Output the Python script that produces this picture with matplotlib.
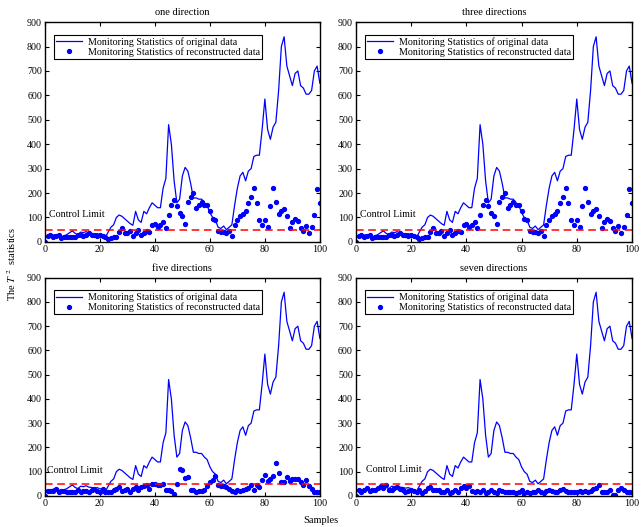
import numpy as np
import matplotlib
matplotlib.use("Agg")
import matplotlib.pyplot as plt

plt.rcParams['font.family'] = ['Liberation Serif', 'DejaVu Serif']
plt.rcParams['mathtext.fontset'] = 'stix'

samples = np.arange(0, 101)

# T^2 of the original data (same in every panel)
t2_orig = [20, 25, 22, 28, 30, 24, 20, 25, 30, 38,
           45, 35, 30, 40, 38, 42, 36, 35, 32, 34,
           30, 25, 18, 40, 60, 70, 100, 110, 105, 95,
           85, 75, 68, 125, 90, 80, 125, 115, 140, 160,
           150, 140, 140, 220, 260, 480, 400, 250, 160, 175,
           270, 305, 290, 240, 180, 180, 175, 175, 160, 150,
           120, 100, 90, 60, 55, 65, 50, 60, 70, 150,
           220, 270, 285, 250, 290, 300, 350, 355, 355, 460,
           585, 460, 420, 470, 490, 620, 800, 840, 720, 680,
           640, 690, 700, 640, 630, 605, 605, 620, 700, 720,
           650]

t2_one = [0, 25, 28, 18, 25, 30, 15, 22, 20, 20,
          22, 18, 30, 28, 25, 30, 35, 30, 28, 25,
          28, 25, 22, 10, 15, 18, 18, 40, 55, 38,
          38, 45, 25, 35, 50, 28, 35, 45, 42, 70,
          75, 60, 70, 80, 55, 110, 150, 170, 145, 120,
          105, 75, 165, 185, 200, 140, 150, 165, 150, 150,
          125, 95, 90, 45, 40, 40, 38, 45, 25, 70,
          90, 105, 115, 125, 160, 185, 220, 160, 90, 70,
          88, 60, 145, 222, 165, 115, 125, 135, 105, 55,
          80, 95, 85, 55, 45, 65, 35, 60, 110, 215,
          160]

t2_three = list(t2_one)

t2_five = [0, 20, 20, 22, 28, 15, 22, 20, 15, 18,
           15, 18, 25, 15, 22, 20, 15, 25, 30, 20,
           18, 28, 15, 18, 18, 25, 30, 35, 20, 25,
           28, 18, 30, 35, 25, 38, 40, 45, 30, 51,
           48, 46, 43, 48, 23, 23, 21, 7, 51, 110,
           106, 73, 78, 26, 26, 18, 20, 20, 26, 41,
           58, 65, 83, 46, 41, 39, 37, 29, 21, 18,
           26, 21, 23, 28, 33, 46, 26, 43, 37, 65,
           87, 62, 68, 83, 135, 94, 59, 59, 77, 62,
           69, 70, 70, 58, 46, 66, 41, 28, 18, 18,
           15]

t2_seven = [0, 26, 18, 26, 34, 21, 23, 26, 32, 40,
            32, 43, 23, 26, 32, 37, 29, 23, 18, 21,
            26, 21, 18, 23, 11, 21, 32, 37, 26, 23,
            26, 18, 15, 26, 10, 15, 26, 18, 34, 40,
            32, 40, 21, 18, 21, 15, 23, 12, 18, 23,
            15, 10, 26, 21, 18, 15, 18, 15, 12, 15,
            23, 12, 18, 12, 15, 15, 23, 18, 12, 21,
            23, 21, 15, 15, 23, 29, 21, 18, 15, 15,
            18, 21, 15, 21, 18, 21, 29, 34, 45, 15,
            18, 18, 23, 4, 4, 23, 34, 26, 18, 18,
            18]

control_limit = 50
titles = ["one direction", "three directions", "five directions", "seven directions"]
recon = [t2_one, t2_three, t2_five, t2_seven]
label_x = [1.5, 1.5, 0.7, 3.6]
label_y = [92, 92, 86, 90]

fig = plt.figure(figsize=(6.41, 5.27), dpi=100)
rects = [[0.070, 0.541, 0.429, 0.417],
         [0.555, 0.541, 0.431, 0.417],
         [0.070, 0.059, 0.429, 0.414],
         [0.555, 0.059, 0.431, 0.414]]

for i in range(4):
    ax = fig.add_axes(rects[i])
    ax.plot(samples, t2_orig, color='#0000ff', lw=0.9,
            label='Monitoring Statistics of original data')
    ax.plot(samples, recon[i], 'o', color='#0000ff', ms=2.8, mec='#0000ff',
            label='Monitoring Statistics of reconstructed data')
    ax.axhline(control_limit, color='#ff0000', ls=(0, (5, 3)), lw=1.1)
    ax.text(label_x[i], label_y[i], 'Control Limit', fontsize=7.2, va='bottom')
    ax.set_xlim(0, 100)
    ax.set_ylim(0, 900)
    ax.set_xticks(range(0, 101, 20))
    ax.set_yticks(range(0, 901, 100))
    ax.tick_params(direction='in', top=True, right=True, labelsize=7.2,
                   length=3, pad=2)
    for s in ax.spines.values():
        s.set_linewidth(1.0)
    ax.set_title(titles[i], fontsize=7.5, pad=5)
    leg = ax.legend(loc='upper left', fontsize=7.2, numpoints=1,
                    fancybox=False, edgecolor='black', framealpha=1,
                    borderpad=0.2, labelspacing=0.05, handlelength=2.6,
                    handletextpad=0.6, bbox_to_anchor=(0.015, 0.965))
    leg.get_frame().set_linewidth(0.8)

fig.text(0.018, 0.5, 'The $T^{\\ 2}$  statistics', rotation=90, fontsize=7.5,
         va='center', ha='center')
fig.text(0.5, 0.008, 'Samples', fontsize=7.5, ha='center')

plt.savefig('out.png', dpi=100)
